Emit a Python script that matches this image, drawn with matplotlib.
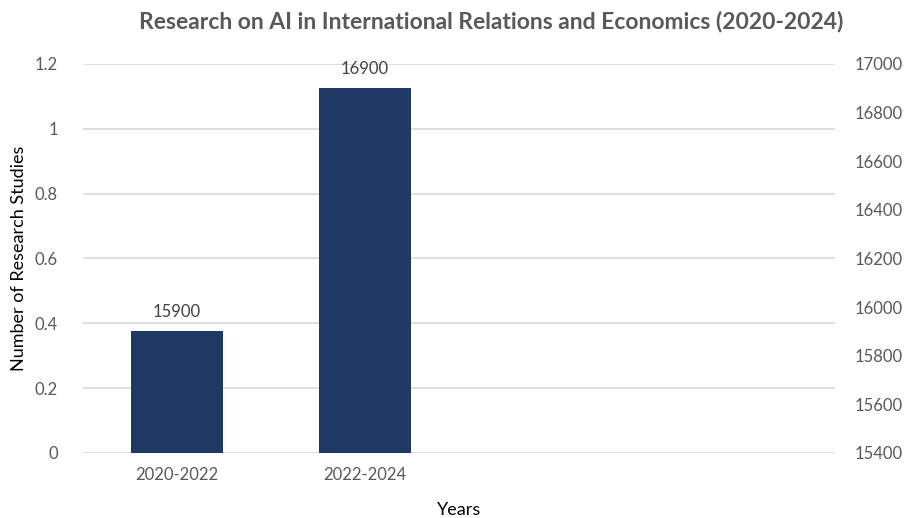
import matplotlib.pyplot as plt

# ── Data ──────────────────────────────────────────────────────────────────────
periods = ["2020-2022", "2022-2024"]
studies = [15900, 16900]
n_slots = 4  # category axis has room for four periods, only two are filled

left_ticks = [0, 0.2, 0.4, 0.6, 0.8, 1, 1.2]
left_labels = ["0", "0.2", "0.4", "0.6", "0.8", "1", "1.2"]
right_ticks = [15400, 15600, 15800, 16000, 16200, 16400, 16600, 16800, 17000]

# ── Style ─────────────────────────────────────────────────────────────────────
FONT = ["Lato", "DejaVu Sans"]
BAR_COLOR = "#203864"
GRID_COLOR = "#d9d9d9"
TICK_COLOR = "#595959"

plt.rcParams["font.family"] = FONT

fig = plt.figure(figsize=(9.07, 5.18), dpi=100)
ax = fig.add_axes([0.0915, 0.1255, 0.829, 0.751])
ax2 = ax.twinx()

# left (primary) axis: empty scale, carries the gridlines
ax.set_ylim(0, 1.2)
ax.set_yticks(left_ticks)
ax.set_yticklabels(left_labels)
ax.set_xlim(-0.5, n_slots - 0.5)
ax.grid(axis="y", color=GRID_COLOR, linewidth=1.2)
ax.set_axisbelow(True)

# right (secondary) axis: the bars
ax2.set_ylim(right_ticks[0], right_ticks[-1])
ax2.set_yticks(right_ticks)
xs = list(range(len(periods)))
bars = ax2.bar(xs, [v - right_ticks[0] for v in studies], bottom=right_ticks[0],
               width=0.49, color=BAR_COLOR, zorder=3)
for x, v in zip(xs, studies):
    ax2.annotate(str(v), (x, v), xytext=(0, 8), textcoords="offset points",
                 ha="center", va="bottom", fontsize=12, color="#404040")

ax.set_xticks(xs)
ax.set_xticklabels(periods)

for a in (ax, ax2):
    for s in a.spines.values():
        s.set_visible(False)
    a.tick_params(length=0, labelsize=12, colors=TICK_COLOR)
ax.tick_params(axis="y", pad=18)
ax.tick_params(axis="x", pad=10)
ax2.tick_params(axis="y", pad=14)

ax.set_xlabel("Years", fontsize=13, color="#000000", labelpad=14)
ax.set_ylabel("Number of Research Studies", fontsize=13, color="#000000", labelpad=6)
fig.suptitle("Research on AI in International Relations and Economics (2020-2024)",
             x=0.542, y=0.98, fontsize=16.5, fontweight="bold", color=TICK_COLOR)

fig.savefig("out.png", dpi=100)
